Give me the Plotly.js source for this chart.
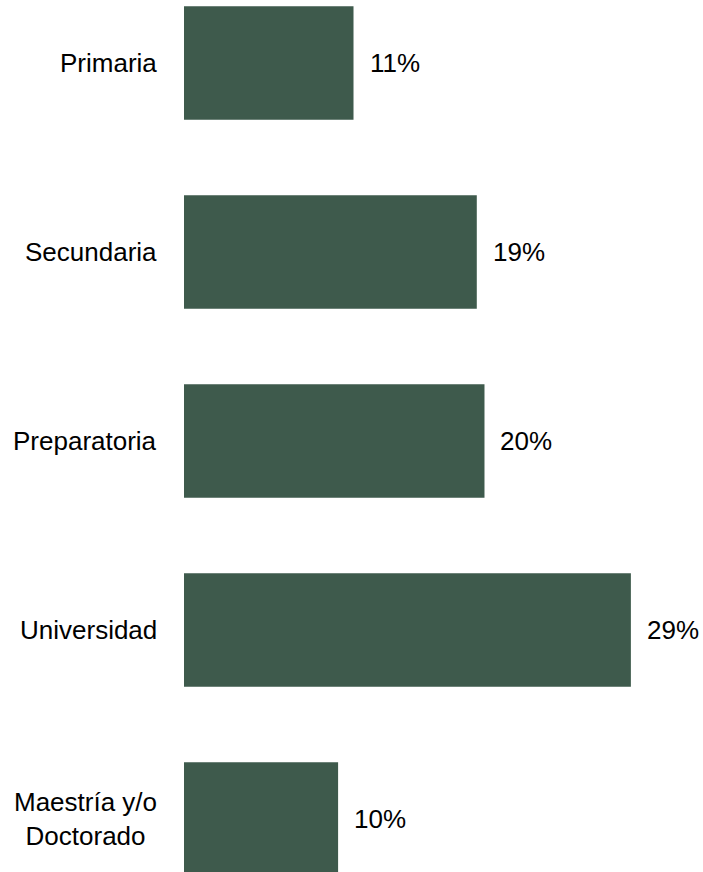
<!DOCTYPE html>
<html>
<head>
<meta charset="utf-8">
<script src="https://cdn.plot.ly/plotly-3.0.1.min.js"></script>
<style>html,body{margin:0;padding:0;background:#fff;}#chart{width:703px;height:872px;}</style>
</head>
<body>
<div id="chart"></div>
<script>
const categories = ["Primaria", "Secundaria", "Preparatoria", "Universidad", "Maestría y/o<br>Doctorado"];
const values = [11, 19, 19.5, 29, 10];
const valueLabels = ["11%", "19%", "20%", "29%", "10%"];

const FONT = '"Liberation Sans Narrow", "Arial Narrow", "Liberation Sans", Arial, sans-serif';

const trace = {
  type: 'bar',
  orientation: 'h',
  x: values,
  y: categories,
  marker: {color: '#3e5a4c', line: {width: 0}},
  width: 0.6,
  hoverinfo: 'none'
};

const valueAnnotations = categories.map((c, i) => ({
  x: values[i], y: c, xref: 'x', yref: 'y',
  text: valueLabels[i], showarrow: false,
  xanchor: 'left', yanchor: 'middle', xshift: 14,
  font: {family: FONT, size: 26, color: '#000'}
}));

const categoryAnnotations = categories.map((c) => ({
  x: 0, y: c, xref: 'paper', yref: 'y',
  text: c, showarrow: false,
  xanchor: 'right', yanchor: 'middle', align: 'center', xshift: -25,
  font: {family: FONT, size: 26, color: '#000'}
}));

const layout = {
  width: 703, height: 872,
  margin: {l: 184, r: 0, t: 0, b: 0, pad: 0},
  paper_bgcolor: '#fff', plot_bgcolor: '#fff',
  showlegend: false,
  font: {family: FONT, size: 26, color: '#000'},
  xaxis: {range: [0, 33.68], visible: false, fixedrange: true},
  yaxis: {
    type: 'category',
    range: [4.28, -0.333],
    showgrid: false, zeroline: false, showline: false,
    ticks: '', showticklabels: false,
    fixedrange: true
  },
  annotations: valueAnnotations.concat(categoryAnnotations)
};

Plotly.newPlot('chart', [trace], layout, {displayModeBar: false, staticPlot: true});
</script>
</body>
</html>
